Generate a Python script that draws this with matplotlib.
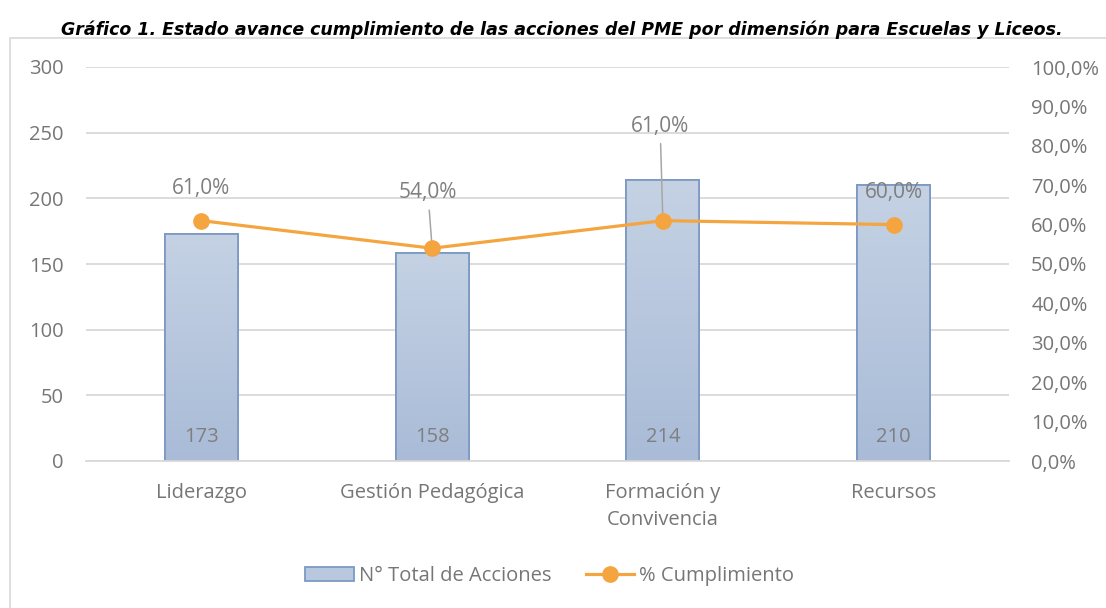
import matplotlib
matplotlib.use('Agg')
import matplotlib.pyplot as plt
from matplotlib.colors import LinearSegmentedColormap
from matplotlib.patches import Rectangle, Patch
from matplotlib.lines import Line2D
from matplotlib.ticker import FuncFormatter
import numpy as np

plt.rcParams['font.family'] = ['Open Sans', 'DejaVu Sans']

categories = ['Liderazgo', 'Gestión Pedagógica', 'Formación y\nConvivencia', 'Recursos']
total_acciones = [173, 158, 214, 210]
cumplimiento = [0.61, 0.54, 0.61, 0.60]
# label offsets (points) for the percent labels, and whether a leader line is drawn
pct_offsets = [(0, 23), (-3, 40), (-2, 68), (0, 23)]
pct_leader = [False, True, True, False]

title = 'Gráfico 1. Estado avance cumplimiento de las acciones del PME por dimensión para Escuelas y Liceos.'

tick_col = '#767676'
label_col = '#7f7f7f'
orange = '#f4a540'
fs = 14.5

fig = plt.figure(figsize=(11.06, 6.08), dpi=100)
ax = fig.add_axes([86/1106, 1-461/608, (1009-86)/1106, (461-67)/608])
ax2 = ax.twinx()

# outer frame like the Excel chart area
fig.patches.append(Rectangle((10/1106, -0.05), 1.2, 1-38/608+0.05, transform=fig.transFigure,
                             facecolor='none', edgecolor='#d9d9d9', lw=1.2))
fig.text(0.508, 1-30/608, title, ha='center', va='center', fontsize=12.5,
         fontweight='bold', fontstyle='italic',
         family=['Liberation Sans Narrow', 'DejaVu Sans'], color='black')

x = np.arange(len(categories))
bars = ax.bar(x, total_acciones, width=0.316, color='#b8c8de', edgecolor='#7d9ac3', lw=1.3, zorder=2)
cmap = LinearSegmentedColormap.from_list('bargrad', ['#a9bbd7', '#c5d2e4'])
grad = np.linspace(0, 1, 100).reshape(-1, 1)
for b in bars:
    x0, w, h = b.get_x(), b.get_width(), b.get_height()
    im = ax.imshow(grad, extent=[x0, x0 + w, 0, h], origin='lower', aspect='auto',
                   cmap=cmap, zorder=2.1)
    im.set_clip_path(b)
    ax.add_patch(Rectangle((x0, 0), w, h, facecolor='none', edgecolor='#7d9ac3', lw=1.3, zorder=2.2))

for xi, v in zip(x, total_acciones):
    ax.annotate(str(v), (xi, 0), xytext=(0, 17), textcoords='offset points',
                ha='center', va='center', fontsize=fs, color=label_col, zorder=3)

ax.set_xlim(-0.5, 3.5)
ax.set_ylim(0, 300)
ax.set_yticks(range(0, 301, 50))
ax.set_xticks(x)
ax.set_xticklabels(categories, linespacing=1.45)
ax.yaxis.grid(True, color='#d9d9d9', lw=1.3)
ax.set_axisbelow(True)
for a in (ax, ax2):
    for s in a.spines.values():
        s.set_visible(False)
ax.spines['bottom'].set_visible(True)
ax.spines['bottom'].set_color('#d9d9d9')
ax.spines['bottom'].set_linewidth(1.3)
ax.tick_params(axis='y', length=0, pad=16, labelsize=fs, labelcolor=tick_col)
ax.tick_params(axis='x', length=0, pad=16, labelsize=fs, labelcolor=tick_col)

ax2.plot(x, cumplimiento, color=orange, lw=2.3, marker='o', markersize=11, zorder=4)
ax2.set_ylim(0, 1)
ax2.set_yticks(np.arange(0, 1.01, 0.1))
ax2.yaxis.set_major_formatter(FuncFormatter(lambda v, p: ('%.1f%%' % (v * 100)).replace('.', ',')))
ax2.tick_params(axis='y', length=0, pad=16, labelsize=fs, labelcolor=tick_col)

for xi, v, off, lead in zip(x, cumplimiento, pct_offsets, pct_leader):
    txt = ('%.1f%%' % (v * 100)).replace('.', ',')
    if lead:
        ax2.annotate(txt, (xi, v), xytext=off, textcoords='offset points',
                     ha='center', va='center', fontsize=15, color=label_col,
                     arrowprops=dict(arrowstyle='-', color='#a6a6a6', lw=1.1, shrinkA=3, shrinkB=0))
    else:
        ax2.annotate(txt, (xi, v), xytext=off, textcoords='offset points',
                     ha='center', va='center', fontsize=15, color=label_col)

handles = [Patch(facecolor='#b8c8de', edgecolor='#7d9ac3', lw=1.3),
           Line2D([0], [0], color=orange, lw=2.3, marker='o', markersize=11)]
fig.legend(handles, ['N° Total de Acciones', '% Cumplimiento'], loc='center',
           bbox_to_anchor=(0.497, 1-576/608), ncol=2, frameon=False, fontsize=fs,
           labelcolor=tick_col, handlelength=2.4, handletextpad=0.25, columnspacing=1.7)

fig.savefig('out.png', dpi=100)
